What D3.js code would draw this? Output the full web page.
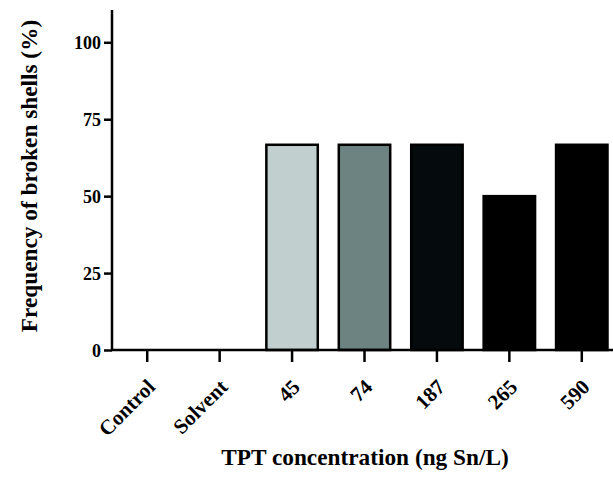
<!DOCTYPE html>
<html>
<head>
<meta charset="utf-8">
<script src="https://cdn.jsdelivr.net/npm/d3@7"></script>
<style>
  body { margin: 0; background: #fff; }
</style>
</head>
<body>
<div id="chart"></div>
<script>
// data
const categories = ["Control", "Solvent", "45", "74", "187", "265", "590"];
const values = [0, 0, 66.7, 66.7, 66.7, 50, 66.7];
const barColors = ["#ffffff", "#ffffff", "#c1d0ce", "#6c8381", "#050b0d", "#000000", "#000000"];
const yTicks = [0, 25, 50, 75, 100];

const width = 613, height = 477;
const serif = "'Liberation Serif', 'Times New Roman', Times, 'DejaVu Serif', serif";

const svg = d3.select("#chart")
    .append("svg")
    .attr("width", width)
    .attr("height", height);

// scales
const x = d3.scaleBand()
    .domain(categories)
    .range([111, 618])
    .paddingInner(0.29)
    .paddingOuter(0.145);

const y = d3.scaleLinear()
    .domain([0, 110.5])
    .range([350, 10]);

// bars
svg.selectAll("rect.bar")
    .data(categories.map((c, i) => ({cat: c, value: values[i], color: barColors[i]})))
    .enter()
    .append("rect")
        .attr("class", "bar")
        .attr("x", d => x(d.cat))
        .attr("y", d => y(d.value))
        .attr("width", x.bandwidth())
        .attr("height", d => y(0) - y(d.value))
        .style("fill", d => d.color)
        .style("stroke", "#000")
        .style("stroke-width", 2.5);

// y axis
const yAxis = svg.append("g")
    .attr("transform", "translate(" + 112 + ",0)")
    .call(d3.axisLeft(y).tickValues(yTicks).tickSize(8).tickPadding(3).tickSizeOuter(0));
yAxis.select(".domain").remove();
yAxis.append("line")
    .attr("x1", 0).attr("x2", 0)
    .attr("y1", y(0) + 1).attr("y2", y(110.5))
    .attr("stroke", "#000").attr("stroke-width", 2.5);
yAxis.selectAll(".tick line").attr("stroke", "#000").attr("stroke-width", 2.5);
yAxis.selectAll(".tick text")
    .style("font-family", serif)
    .style("font-weight", "bold")
    .style("font-size", "18px")
    .attr("dy", "0.35em");

// x axis
const xAxis = svg.append("g")
    .attr("transform", "translate(0," + y(0) + ")")
    .call(d3.axisBottom(x).tickSize(12).tickSizeOuter(0));
xAxis.select(".domain").remove();
xAxis.append("line")
    .attr("x1", 111).attr("x2", width)
    .attr("y1", 0).attr("y2", 0)
    .attr("stroke", "#000").attr("stroke-width", 2.5);
xAxis.selectAll(".tick line").attr("stroke", "#000").attr("stroke-width", 2.5);
xAxis.selectAll(".tick text")
    .style("font-family", serif)
    .style("font-weight", "bold")
    .style("font-size", "21px")
    .attr("text-anchor", "end")
    .attr("transform", "translate(4,33) rotate(-45)")
    .attr("x", 0)
    .attr("y", 0)
    .attr("dy", "0.35em");

// axis titles
svg.append("text")
    .attr("x", 365)
    .attr("y", 465)
    .attr("text-anchor", "middle")
    .style("font-family", serif)
    .style("font-weight", "bold")
    .style("font-size", "23.3px")
    .text("TPT concentration (ng Sn/L)");

svg.append("text")
    .attr("transform", "translate(37," + 176 + ") rotate(-90)")
    .attr("text-anchor", "middle")
    .style("font-family", serif)
    .style("font-weight", "bold")
    .style("font-size", "23.3px")
    .text("Frequency of broken shells (%)");
</script>
</body>
</html>
